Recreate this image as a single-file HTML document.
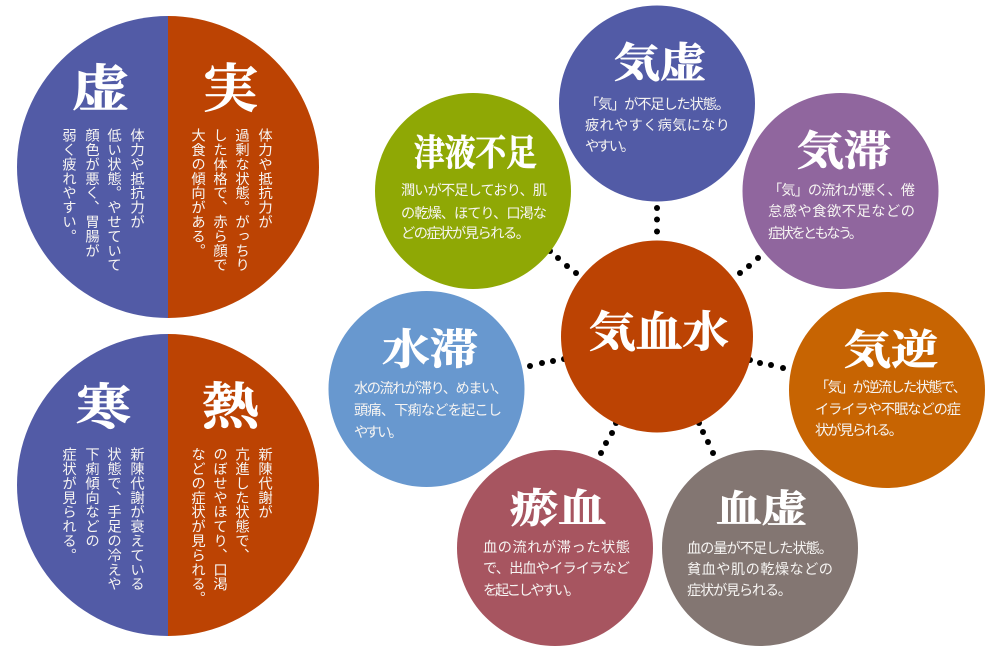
<!DOCTYPE html>
<html lang="ja">
<head>
<meta charset="utf-8">
<style>
html,body{margin:0;padding:0;background:#fff;width:1000px;height:650px;overflow:hidden}
svg{display:block}
text{fill:#fff}
.b{font-family:"Liberation Sans","Noto Sans CJK JP",sans-serif;font-size:14.2px;fill:#f6f4f2}
.h{font-family:"Noto Serif CJK SC","Noto Sans CJK JP",serif;font-weight:700;stroke:#fff;stroke-width:.7px}
.v{font-family:"Liberation Sans","Noto Sans CJK JP",sans-serif;font-size:14.3px;writing-mode:vertical-rl;letter-spacing:.1px;fill:#f6f4f2}
</style>
</head>
<body>
<svg xmlns="http://www.w3.org/2000/svg" width="1000" height="650" viewBox="0 0 1000 650" lang="ja">
<rect width="1000" height="650" fill="#fff"/>

<!-- left circles -->
<path d="M168 16A151 151 0 0 0 168 318Z" fill="#525ba6"/>
<path d="M168 16A151 151 0 0 1 168 318Z" fill="#bc4303"/>
<path d="M168 334A151 151 0 0 0 168 636Z" fill="#525ba6"/>
<path d="M168 334A151 151 0 0 1 168 636Z" fill="#bc4303"/>

<text class="h" x="72" y="106" font-size="50" textLength="57" lengthAdjust="spacingAndGlyphs">虚</text>
<text class="h" x="203" y="107" font-size="52" textLength="55" lengthAdjust="spacingAndGlyphs">実</text>
<text class="h" x="76" y="424" font-size="49" textLength="55" lengthAdjust="spacingAndGlyphs">寒</text>
<text class="h" x="202" y="424" font-size="50" textLength="57" lengthAdjust="spacingAndGlyphs">熱</text>

<text class="v" x="136" y="128">体力や抵抗力が</text>
<text class="v" x="113" y="128">低い状態。やせていて</text>
<text class="v" x="91" y="128">顔色が悪く、胃腸が</text>
<text class="v" x="68" y="128">弱く疲れやすい。</text>

<text class="v" x="264" y="128">体力や抵抗力が</text>
<text class="v" x="241" y="128">過剰な状態。がっちり</text>
<text class="v" x="219" y="128">した体格で、赤ら顔で</text>
<text class="v" x="197" y="128">大食の傾向がある。</text>

<text class="v" x="136" y="447">新陳代謝が衰えている</text>
<text class="v" x="113" y="447">状態で、手足の冷えや</text>
<text class="v" x="91" y="447">下痢傾向などの</text>
<text class="v" x="68" y="447">症状が見られる。</text>

<text class="v" x="264" y="447">新陳代謝が</text>
<text class="v" x="241" y="447">亢進した状態で、</text>
<text class="v" x="219" y="447">のぼせやほてり、口渇</text>
<text class="v" x="197" y="447">などの症状が見られる。</text>

<!-- dots -->
<g fill="#000">
<circle cx="657" cy="208" r="3"/><circle cx="657" cy="219.5" r="3"/><circle cx="657" cy="231.5" r="3"/>
<circle cx="550" cy="251" r="3"/><circle cx="558" cy="258" r="3"/><circle cx="567" cy="266" r="3"/><circle cx="576" cy="273" r="3"/>
<circle cx="740" cy="273" r="3"/><circle cx="749" cy="266" r="3"/><circle cx="758" cy="258" r="3"/>
<circle cx="750" cy="360" r="3"/><circle cx="760" cy="363" r="3"/><circle cx="771" cy="365" r="3"/><circle cx="783" cy="368" r="3"/>
<circle cx="699" cy="423" r="3"/><circle cx="703" cy="432" r="3"/><circle cx="708" cy="442" r="3"/><circle cx="713" cy="453" r="3"/>
<circle cx="530" cy="366" r="3"/><circle cx="542" cy="363" r="3"/><circle cx="553" cy="361" r="3"/><circle cx="564" cy="359" r="3"/>
<circle cx="616" cy="423" r="3"/><circle cx="612" cy="433" r="3"/><circle cx="606" cy="443" r="3"/><circle cx="601" cy="453" r="3"/>
</g>

<!-- right circles -->
<circle cx="657" cy="336.5" r="96" fill="#bc4303"/>
<circle cx="657" cy="103.5" r="98" fill="#525ba6"/>
<circle cx="473" cy="191" r="98" fill="#8fa805"/>
<circle cx="840.5" cy="191" r="98" fill="#90669e"/>
<circle cx="887" cy="390" r="98" fill="#c76402"/>
<circle cx="426.5" cy="389" r="98" fill="#6898cf"/>
<circle cx="555" cy="548" r="98" fill="#a75560"/>
<circle cx="760" cy="548" r="98" fill="#837672"/>

<text class="h" x="589" y="347" font-size="43" textLength="140" lengthAdjust="spacingAndGlyphs">気血水</text>

<text class="h" x="614" y="77" font-size="41" textLength="92" lengthAdjust="spacingAndGlyphs">気虚</text>
<text class="b" x="585" y="109" textLength="145">「気」が不足した状態。</text>
<text class="b" x="585" y="130" textLength="145">疲れやすく病気になり</text>
<text class="b" x="585" y="151" textLength="50">やすい。</text>

<text class="h" x="414" y="165" font-size="36" textLength="123" lengthAdjust="spacingAndGlyphs">津液不足</text>
<text class="b" x="401" y="195" textLength="146">潤いが不足しており、肌</text>
<text class="b" x="401" y="218" textLength="146">の乾燥、ほてり、口渇な</text>
<text class="b" x="401" y="238" textLength="129">どの症状が見られる。</text>

<text class="h" x="797" y="165" font-size="41" textLength="94" lengthAdjust="spacingAndGlyphs">気滞</text>
<text class="b" x="768" y="195" textLength="147">「気」の流れが悪く、倦</text>
<text class="b" x="768" y="216" textLength="147">怠感や食欲不足などの</text>
<text class="b" x="768" y="238" textLength="95">症状をともなう。</text>

<text class="h" x="844" y="364" font-size="41" textLength="94" lengthAdjust="spacingAndGlyphs">気逆</text>
<text class="b" x="815" y="392" textLength="152">「気」が逆流した状態で、</text>
<text class="b" x="815" y="414" textLength="146">イライラや不眠などの症</text>
<text class="b" x="815" y="435" textLength="88">状が見られる。</text>

<text class="h" x="382" y="364" font-size="42" textLength="96" lengthAdjust="spacingAndGlyphs">水滞</text>
<text class="b" x="354" y="393" textLength="154">水の流れが滞り、めまい、</text>
<text class="b" x="354" y="415" textLength="148">頭痛、下痢などを起こし</text>
<text class="b" x="354" y="437" textLength="49">やすい。</text>

<text class="h" x="510" y="522" font-size="40" textLength="96" lengthAdjust="spacingAndGlyphs">瘀血</text>
<text class="b" x="483" y="552" textLength="147">血の流れが滞った状態</text>
<text class="b" x="483" y="573" textLength="147">で、出血やイライラなど</text>
<text class="b" x="483" y="595" textLength="97">を起こしやすい。</text>

<text class="h" x="716" y="522" font-size="38" textLength="91" lengthAdjust="spacingAndGlyphs">血虚</text>
<text class="b" x="687" y="553" textLength="146">血の量が不足した状態。</text>
<text class="b" x="687" y="574" textLength="146">貧血や肌の乾燥などの</text>
<text class="b" x="687" y="595" textLength="105">症状が見られる。</text>
</svg>
</body>
</html>
